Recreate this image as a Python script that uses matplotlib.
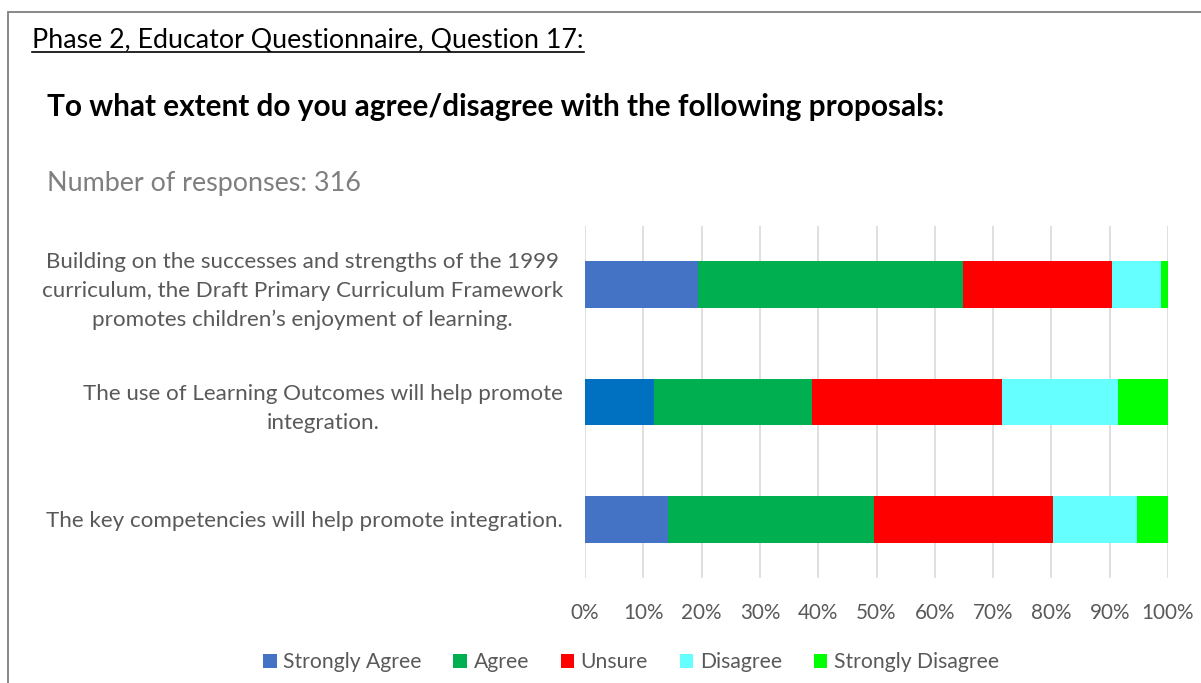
import matplotlib.pyplot as plt
from matplotlib.patches import Patch, Rectangle
from matplotlib.lines import Line2D

# survey data (percent of responses)
questions = [
    "Building on the successes and strengths of the 1999\ncurriculum, the Draft Primary Curriculum Framework\npromotes children\u2019s enjoyment of learning.",
    "The use of Learning Outcomes will help promote\nintegration.",
    "The key competencies will help promote integration.",
]
responses = ["Strongly Agree", "Agree", "Unsure", "Disagree", "Strongly Disagree"]
strongly_agree = [19.4, 11.8, 14.2]
agree = [45.5, 27.2, 35.4]
unsure = [25.5, 32.5, 30.7]
disagree = [8.4, 19.9, 14.3]
strongly_disagree = [1.2, 8.6, 5.4]

colors = ["#4472C4", "#00B050", "#FF0000", "#66FFFF", "#00FF00"]
# the middle bar's first segment uses a slightly different blue in the original
sa_colors = ["#4472C4", "#0070C0", "#4472C4"]

plt.rcParams['font.family'] = ['Lato', 'DejaVu Sans']

W, H = 1201, 683
fig = plt.figure(figsize=(W / 100, H / 100), dpi=100)

# outer frame (grey box, cut at right/bottom)
fig.add_artist(Rectangle((8 / W, -0.1), 1.2, 1 - 12 / H + 0.1, transform=fig.transFigure,
                         fill=False, edgecolor="#7f7f7f", linewidth=1.3))

heading = fig.text(32 / W, 1 - 40 / H, "Phase 2, Educator Questionnaire, Question 17:",
                   fontsize=19.3, color="black", va="center", ha="left")
fig.text(47 / W, 1 - 107 / H, "To what extent do you agree/disagree with the following proposals:",
         fontsize=21.4, fontweight="bold", color="black", va="center", ha="left")
fig.text(47 / W, 1 - 183 / H, "Number of responses: 316",
         fontsize=19.4, color="#7f7f7f", va="center", ha="left")

ax = fig.add_axes([585 / W, 1 - 578 / H, (1168 - 585) / W, (578 - 226) / H])

series = [strongly_agree, agree, unsure, disagree, strongly_disagree]
ypos = list(range(len(questions)))
left = [0.0] * len(questions)
for i, vals in enumerate(series):
    c = sa_colors if i == 0 else colors[i]
    ax.barh(ypos, vals, left=left, height=0.4, color=c, label=responses[i], zorder=3)
    left = [l + v for l, v in zip(left, vals)]

ax.set_xlim(0, 100)
ax.set_ylim(2.5, -0.5)
ax.set_xticks(range(0, 101, 10))
ax.set_xticklabels([f"{t}%" for t in range(0, 101, 10)])
ax.set_yticks(ypos)
ax.set_yticklabels(questions, multialignment="center", ha="right")
ax.tick_params(axis="y", length=0, labelsize=16.1, labelcolor="#595959", pad=16)
ax.tick_params(axis="x", length=0, labelsize=14.9, labelcolor="#595959", pad=18)
ax.grid(axis="x", color="#d9d9d9", linewidth=1.2, zorder=0)
for s in ax.spines.values():
    s.set_visible(False)
for lab in ax.get_yticklabels():
    lab.set_linespacing(1.55)

handles = [Patch(facecolor=colors[i], label=responses[i]) for i in range(len(responses))]
leg = fig.legend(handles=handles, loc="center", bbox_to_anchor=(631 / W, 1 - 662 / H),
                 ncol=5, frameon=False, fontsize=15.2, handlelength=0.65, handleheight=0.65,
                 handletextpad=0.3, columnspacing=1.5)
for t in leg.get_texts():
    t.set_color("#595959")

# underline the heading
r = fig.canvas.get_renderer()
bb = heading.get_window_extent(renderer=r).transformed(fig.transFigure.inverted())
fig.add_artist(Line2D([bb.x0, bb.x1], [bb.y0 + 1 / H, bb.y0 + 1 / H],
                      transform=fig.transFigure, color="black", linewidth=1.2))

fig.savefig("out.png", dpi=100)
